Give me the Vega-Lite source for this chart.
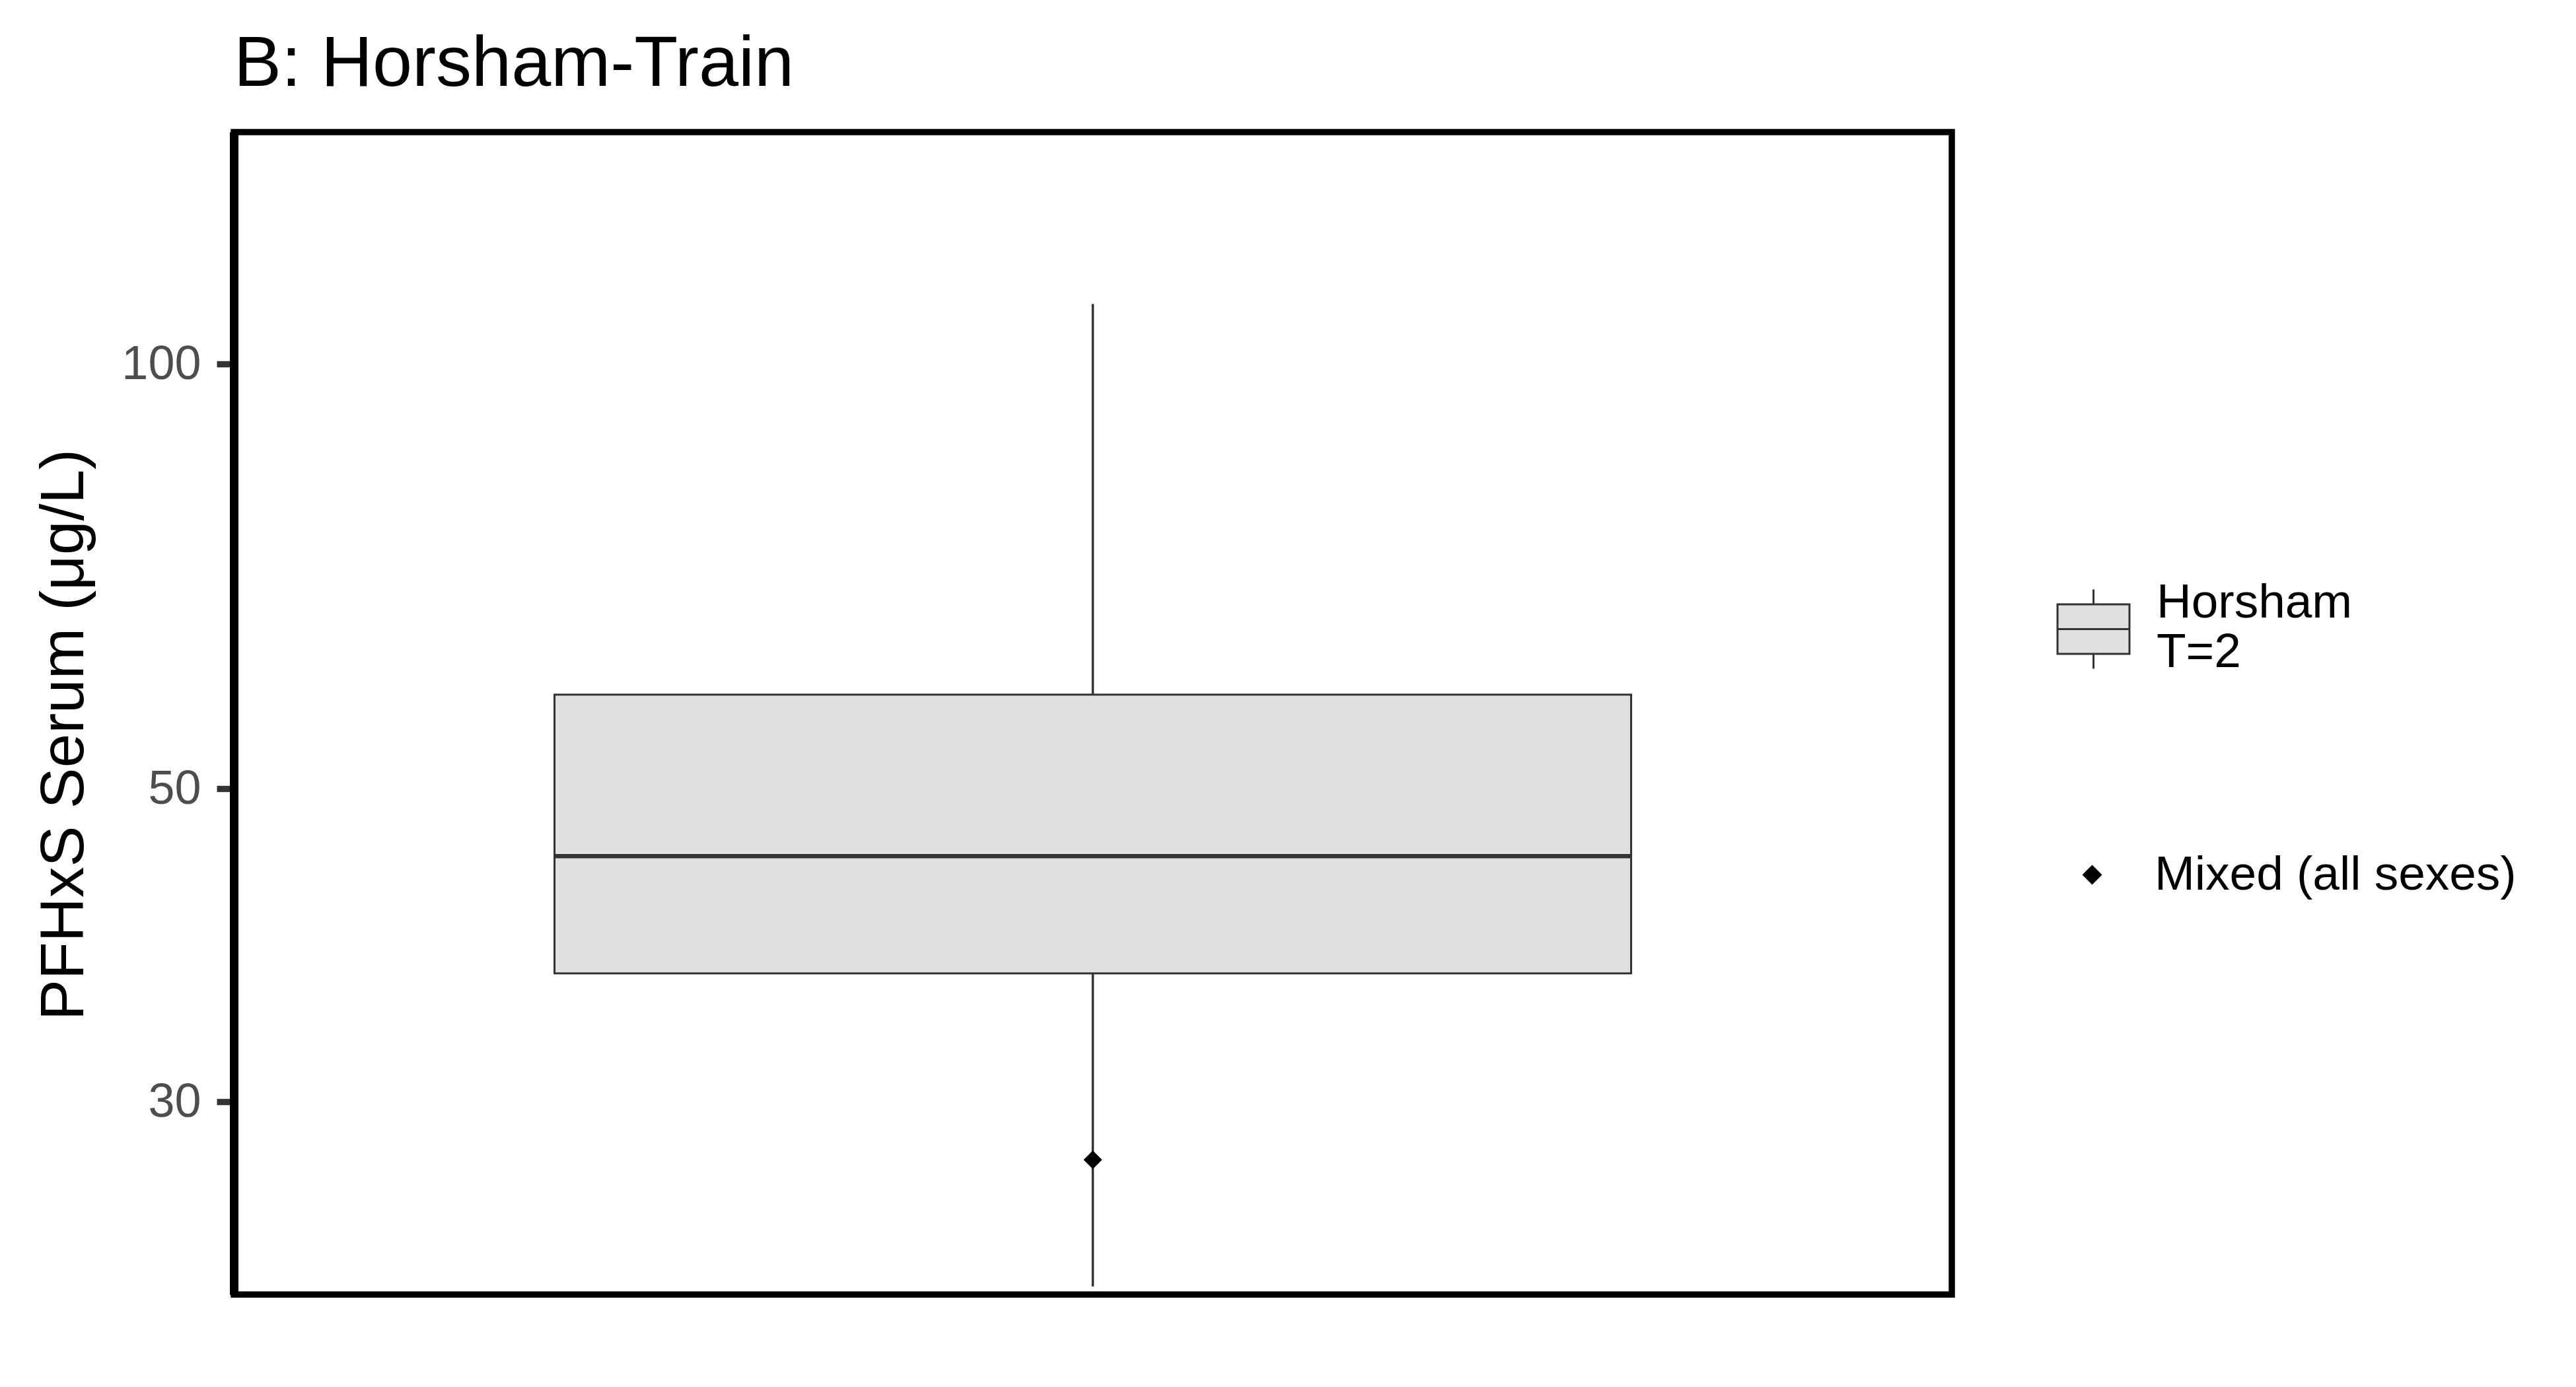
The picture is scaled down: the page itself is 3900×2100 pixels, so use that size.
{
  "$schema": "https://vega.github.io/schema/vega-lite/v6.json",
  "autosize": "none",
  "width": 2601,
  "height": 1760,
  "padding": {"left": 354, "top": 200, "right": 945, "bottom": 140},
  "background": "white",
  "title": {
    "text": "B: Horsham-Train",
    "anchor": "start",
    "frame": "group",
    "font": "Liberation Sans",
    "fontSize": 108,
    "fontWeight": "normal",
    "color": "black",
    "baseline": "alphabetic",
    "offset": 68,
    "dx": 0,
    "dy": 106
  },
  "datasets": {
    "box": [
      {"group": "Horsham", "label": "Horsham\nT=2", "lower": 22.2, "q1": 37.0, "median": 44.8, "q3": 58.3, "upper": 110.3}
    ],
    "pts": [
      {"group": "Horsham", "value": 27.3, "sex": "Mixed (all sexes)"}
    ]
  },
  "layer": [
    {
      "data": {"name": "box"},
      "mark": {"type": "rule", "color": "#333333", "strokeWidth": 3.5},
      "encoding": {
        "x": {"field": "group", "type": "nominal", "axis": null},
        "y": {
          "field": "lower",
          "type": "quantitative",
          "scale": {"type": "log", "domain": [21.91, 146.0], "nice": false, "zero": false},
          "axis": {
            "values": [30, 50, 100],
            "format": "d",
            "grid": false,
            "tickSize": 26,
            "tickWidth": 9.5,
            "tickColor": "#333333",
            "labelFont": "Liberation Sans",
            "labelFontSize": 72,
            "labelColor": "#4D4D4D",
            "labelPadding": 24,
            "labelFlush": false,
            "labelOverlap": false,
            "domain": true,
            "domainColor": "black",
            "domainWidth": 13,
            "title": "PFHxS Serum (μg/L)",
            "titleFont": "Liberation Sans",
            "titleFontSize": 93,
            "titleFontWeight": "normal",
            "titleColor": "black",
            "titleAngle": -90,
            "titleBaseline": "alphabetic",
            "titleAlign": "center",
            "titleX": -229,
            "titleY": 912
          }
        },
        "y2": {"field": "upper"}
      }
    },
    {
      "data": {"name": "box"},
      "mark": {"type": "bar", "stroke": "#333333", "strokeWidth": 3},
      "encoding": {
        "x": {"field": "group", "type": "nominal", "axis": null},
        "y": {"field": "q1", "type": "quantitative", "scale": {"type": "log", "domain": [21.91, 146.0], "nice": false, "zero": false}},
        "y2": {"field": "q3"},
        "fill": {
          "field": "label",
          "type": "nominal",
          "scale": {"range": ["#E0E0E0"]},
          "legend": {
            "title": null,
            "orient": "none",
            "legendX": 2754,
            "legendY": 651,
            "padding": 0,
            "symbolType": "M-0.908,0.042H0.908V1.292H-0.908Z M-0.908,0.667H0.908 M0,0.042V-0.333 M0,1.292V1.667",
            "symbolSize": 14400,
            "symbolStrokeColor": "#333333",
            "symbolStrokeWidth": 3,
            "symbolFillColor": "#E0E0E0",
            "labelOffset": 34,
            "labelFont": "Liberation Sans",
            "labelFontSize": 73,
            "labelColor": "black",
            "labelLimit": 1000,
            "labelExpr": "split(datum.label, '\\n')"
          }
        }
      }
    },
    {
      "data": {"name": "box"},
      "mark": {"type": "tick", "color": "#333333", "opacity": 1, "thickness": 6.5, "size": 1630},
      "encoding": {
        "x": {"field": "group", "type": "nominal", "axis": null},
        "y": {"field": "median", "type": "quantitative", "scale": {"type": "log", "domain": [21.91, 146.0], "nice": false, "zero": false}}
      }
    },
    {
      "data": {"name": "pts"},
      "mark": {"type": "point", "filled": true, "color": "black", "opacity": 1, "size": 784},
      "encoding": {
        "x": {"field": "group", "type": "nominal", "axis": null},
        "y": {"field": "value", "type": "quantitative", "scale": {"type": "log", "domain": [21.91, 146.0], "nice": false, "zero": false}},
        "shape": {
          "field": "sex",
          "type": "nominal",
          "scale": {"range": ["diamond"]},
          "legend": {
            "title": null,
            "orient": "none",
            "legendX": 2777,
            "legendY": 1088,
            "padding": 0,
            "symbolSize": 900,
            "symbolFillColor": "black",
            "symbolStrokeColor": "black",
            "symbolStrokeWidth": 0,
            "labelOffset": 58,
            "labelFont": "Liberation Sans",
            "labelFontSize": 73,
            "labelColor": "black",
            "labelLimit": 1000
          }
        }
      }
    }
  ],
  "config": {
    "view": {"stroke": "black", "strokeWidth": 9.5},
    "scale": {"bandPaddingInner": 0.2295, "bandPaddingOuter": 0.2295}
  }
}
